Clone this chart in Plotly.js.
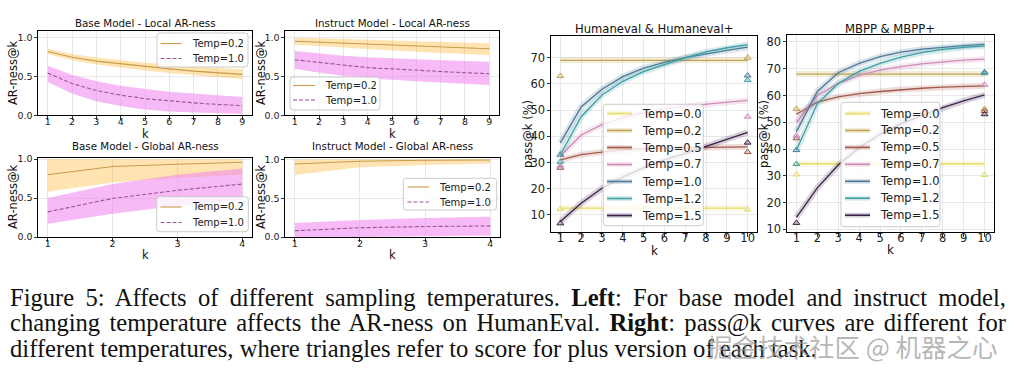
<!DOCTYPE html>
<html><head><meta charset="utf-8">
<script src="https://cdn.plot.ly/plotly-3.0.1.min.js"></script>
<style>html,body{margin:0;padding:0;background:#fff;}#chart{width:1015px;height:372px;}</style>
</head><body><div id="chart"></div>
<script>
// ---------------- DATA ----------------
const kLocal = [1,2,3,4,5,6,7,8,9];
const kGlobal = [1,2,3,4];
const kPass = [1,2,3,4,5,6,7,8,9,10];
const kPlus = [1,10];
const arLegendNames = ['Temp=0.2','Temp=1.0'];

// Base model - local AR-ness
const baseLocalT02   = [0.824,0.75,0.70,0.665,0.63,0.60,0.57,0.545,0.528];
const baseLocalT02Lo = [0.79,0.71,0.655,0.615,0.58,0.545,0.515,0.49,0.465];
const baseLocalT02Hi = [0.86,0.79,0.745,0.71,0.68,0.655,0.63,0.61,0.595];
const baseLocalT10   = [0.545,0.41,0.32,0.26,0.215,0.185,0.16,0.14,0.125];
const baseLocalT10Lo = [0.43,0.28,0.18,0.12,0.075,0.05,0.035,0.025,0.02];
const baseLocalT10Hi = [0.64,0.52,0.44,0.38,0.34,0.305,0.28,0.255,0.235];
// Instruct model - local AR-ness
const instLocalT02   = [0.957,0.945,0.93,0.915,0.90,0.89,0.88,0.87,0.86];
const instLocalT02Lo = [0.91,0.895,0.875,0.855,0.835,0.82,0.805,0.79,0.78];
const instLocalT02Hi = [1.0,0.995,0.985,0.975,0.965,0.955,0.945,0.935,0.93];
const instLocalT10   = [0.717,0.68,0.645,0.615,0.60,0.58,0.565,0.55,0.537];
const instLocalT10Lo = [0.60,0.55,0.51,0.48,0.46,0.44,0.42,0.405,0.39];
const instLocalT10Hi = [0.83,0.80,0.77,0.75,0.735,0.72,0.71,0.70,0.69];
// Base model - global AR-ness
const baseGlobalT02   = [0.80,0.905,0.935,0.96];
const baseGlobalT02Lo = [0.58,0.70,0.76,0.80];
const baseGlobalT02Hi = [1.0,1.0,1.0,1.0];
const baseGlobalT10   = [0.323,0.496,0.60,0.68];
const baseGlobalT10Lo = [0.17,0.30,0.40,0.48];
const baseGlobalT10Hi = [0.50,0.68,0.80,0.88];
// Instruct model - global AR-ness
const instGlobalT02   = [0.943,0.978,0.99,0.995];
const instGlobalT02Lo = [0.80,0.90,0.93,0.95];
const instGlobalT02Hi = [1.0,1.0,1.0,1.0];
const instGlobalT10   = [0.08,0.12,0.135,0.143];
const instGlobalT10Lo = [0.0,0.0,0.01,0.02];
const instGlobalT10Hi = [0.18,0.22,0.245,0.26];

// pass@k
const temps = ['Temp=0.0','Temp=0.2','Temp=0.5','Temp=0.7','Temp=1.0','Temp=1.2','Temp=1.5'];
const heT00 = [12.6,12.6,12.6,12.6,12.6,12.6,12.6,12.6,12.6,12.6];
const heT02 = [69,69,69,69,69,69,69,69,69,69];
const heT05 = [31,33,34,34.8,35.2,35.5,35.7,35.8,35.9,36];
const heT07 = [32.5,40.5,44.5,47,49,50.5,51.5,52.3,53,53.7];
const heT10 = [37.5,51.2,58,62.8,66,68.2,70,71.5,72.8,74];
const heT12 = [33,47.5,55.8,61,64.7,67.4,70,72.2,73.8,75];
const heT15 = [7.5,14.5,20.2,24.5,28,31,33.5,36.2,39,41.5];
const hePlus = [[12.3,12.0],[63,70],[28,34],[28.8,47.5],[33,63.2],[30.3,61.5],[6.8,37.6]];

const mbT00 = [34.5,34.5,34.5,34.5,34.5,34.5,34.5,34.5,34.5,34.5];
const mbT02 = [68,68,68,68,68,68,68,68,68,68];
const mbT05 = [53,57.5,59.5,60.7,61.5,62.2,62.7,63.1,63.4,63.6];
const mbT07 = [50,60,64.5,67.5,69.5,70.8,71.8,72.6,73.2,73.6];
const mbT10 = [46.5,61.5,68.5,72,74.5,76.2,77.3,78,78.6,79.1];
const mbT12 = [39.5,57,64.5,69,72,74.3,76,77.2,78,78.5];
const mbT15 = [14.5,25.5,34,40.5,45.5,49.5,52.5,55.5,58,60.2];
const mbPlus = [[30.5,30.3],[55,55],[44,54.2],[45,64],[39.6,68.7],[34.4,68.3],[12.4,53]];

// ---------------- STYLE ----------------
const W = 1015, H = 372;
const px = v => v / W, py = v => 1 - v / H;
const FONT = 'DejaVu Sans';
const AR02 = '#c89b4b', AR10 = '#a0509a';
const AR02BAND = 'rgba(255,165,0,0.3)', AR10BAND = 'rgba(238,130,238,0.55)';
const AR10DASH = '4px,2px';
const passColors = ['#e6dd6a','#c2a44e','#a3594a','#cf8cb8','#4d7a98','#3f9ea6','#3b2049'];
function rgba(hex,a){const n=parseInt(hex.slice(1),16);return `rgba(${n>>16},${(n>>8)&255},${n&255},${a})`;}

const traces = [];
const sfx = i => (i===1?'':String(i));

function band(xs, lo, hi, color, ax){
  traces.push({x: xs.concat(xs.slice().reverse()), y: hi.concat(lo.slice().reverse()),
    mode:'lines', fill:'toself', fillcolor: color, line:{width:0}, hoverinfo:'skip',
    showlegend:false, xaxis:'x'+sfx(ax), yaxis:'y'+sfx(ax)});
}
function arPanel(ax, xs, t02, lo02, hi02, t10, lo10, hi10){
  band(xs, lo02, hi02, AR02BAND, ax);
  traces.push({x:xs, y:t02, mode:'lines', name:arLegendNames[0], line:{color:AR02,width:1.1},
    showlegend:false, xaxis:'x'+sfx(ax), yaxis:'y'+sfx(ax)});
  band(xs, lo10, hi10, AR10BAND, ax);
  traces.push({x:xs, y:t10, mode:'lines', name:arLegendNames[1], line:{color:AR10,width:1.1,dash:AR10DASH},
    showlegend:false, xaxis:'x'+sfx(ax), yaxis:'y'+sfx(ax)});
}
arPanel(1, kLocal, baseLocalT02, baseLocalT02Lo, baseLocalT02Hi, baseLocalT10, baseLocalT10Lo, baseLocalT10Hi);
arPanel(2, kLocal, instLocalT02, instLocalT02Lo, instLocalT02Hi, instLocalT10, instLocalT10Lo, instLocalT10Hi);
arPanel(3, kGlobal, baseGlobalT02, baseGlobalT02Lo, baseGlobalT02Hi, baseGlobalT10, baseGlobalT10Lo, baseGlobalT10Hi);
arPanel(4, kGlobal, instGlobalT02, instGlobalT02Lo, instGlobalT02Hi, instGlobalT10, instGlobalT10Lo, instGlobalT10Hi);

function passPanel(ax, series, plus){
  series.forEach((ys,i)=>{
    const c = passColors[i];
    traces.push({x:kPass, y:ys, mode:'lines', line:{color:rgba(c,0.2),width:6}, hoverinfo:'skip',
      showlegend:false, xaxis:'x'+sfx(ax), yaxis:'y'+sfx(ax)});
    traces.push({x:kPass, y:ys, mode:'lines', name:temps[i], line:{color:c,width:1.3},
      showlegend:false, xaxis:'x'+sfx(ax), yaxis:'y'+sfx(ax)});
    traces.push({x:kPlus, y:plus[i], mode:'markers', showlegend:false,
      marker:{symbol:'triangle-up', size:6, color:rgba(c,0.3), line:{color:c,width:1}},
      xaxis:'x'+sfx(ax), yaxis:'y'+sfx(ax)});
  });
}
passPanel(5, [heT00,heT02,heT05,heT07,heT10,heT12,heT15], hePlus);
passPanel(6, [mbT00,mbT02,mbT05,mbT07,mbT10,mbT12,mbT15], mbPlus);

function axis(dom, range, extra){
  return Object.assign({domain:dom, range:range, showline:true, mirror:true, linecolor:'#000', linewidth:1,
    ticks:'outside', ticklen:3.5, tickwidth:0.8, tickcolor:'#000', showgrid:true, gridcolor:'#e2e2e2',
    gridwidth:0.8, zeroline:false, fixedrange:true}, extra);
}
const arTick = {family:FONT, size:9.5, color:'#222'};
const passTick = {family:FONT, size:11.5, color:'#222'};
const dX = (a,b)=>[px(a),px(b)], dY = (t,b)=>[py(b),py(t)];
const xs_ = {ticklabelstandoff:-6};
const xp_ = {ticklabelstandoff:-8};
const ys_ = {ticklabelstandoff:-1};

const layout = {
  width:W, height:H, margin:{l:0,r:0,t:0,b:0}, paper_bgcolor:'#fff', plot_bgcolor:'#fff',
  font:{family:FONT}, showlegend:false,
  xaxis:  axis(dX(38,252),  [0.6,9.4],  Object.assign({anchor:'y',  dtick:1, tickfont:arTick}, xs_)),
  yaxis:  axis(dY(30.5,115.3),[0,1.095],Object.assign({anchor:'x',  tickvals:[0,0.5,1], tickformat:'.1f', tickfont:arTick}, ys_)),
  xaxis2: axis(dX(285,499), [0.6,9.4],  Object.assign({anchor:'y2', dtick:1, tickfont:arTick}, xs_)),
  yaxis2: axis(dY(30.5,115.3),[0,1.095],Object.assign({anchor:'x2', tickvals:[0,0.5,1], tickformat:'.1f', tickfont:arTick}, ys_)),
  xaxis3: axis(dX(38,252),  [0.85,4.15],Object.assign({anchor:'y3', dtick:1, tickfont:arTick}, xs_)),
  yaxis3: axis(dY(158,237), [0,1.015],  Object.assign({anchor:'x3', tickvals:[0,0.5,1], tickformat:'.1f', tickfont:arTick}, ys_)),
  xaxis4: axis(dX(285,500), [0.85,4.15],Object.assign({anchor:'y4', dtick:1, tickfont:arTick}, xs_)),
  yaxis4: axis(dY(158,237), [0,1.02],   Object.assign({anchor:'x4', tickvals:[0,0.5,1], tickformat:'.1f', tickfont:arTick}, ys_)),
  xaxis5: axis(dX(551,757), [0.55,10.45],Object.assign({anchor:'y5', dtick:1, tickfont:passTick}, xp_)),
  yaxis5: axis(dY(35.7,232),[3.5,78.4], Object.assign({anchor:'x5', dtick:10, tickfont:passTick}, ys_)),
  xaxis6: axis(dX(787,994), [0.55,10.45],Object.assign({anchor:'y6', dtick:1, tickfont:passTick}, xp_)),
  yaxis6: axis(dY(35,232),  [9,82.6],   Object.assign({anchor:'x6', dtick:10, tickfont:passTick}, ys_)),
  annotations: [], shapes: []
};

function ann(text, x, y, size, extra){
  layout.annotations.push(Object.assign({text:text, x:px(x), y:py(y), xref:'paper', yref:'paper',
    showarrow:false, xanchor:'center', yanchor:'middle', font:{family:FONT, size:size, color:'#111'}}, extra||{}));
}

// ---- legends (matplotlib style frames) ----
function roundRect(x0,y0,x1,y1,r){
  const X=v=>px(v).toFixed(5), Y=v=>py(v).toFixed(5);
  return `M${X(x0+r)},${Y(y0)} L${X(x1-r)},${Y(y0)} Q${X(x1)},${Y(y0)} ${X(x1)},${Y(y0+r)} `+
         `L${X(x1)},${Y(y1-r)} Q${X(x1)},${Y(y1)} ${X(x1-r)},${Y(y1)} L${X(x0+r)},${Y(y1)} `+
         `Q${X(x0)},${Y(y1)} ${X(x0)},${Y(y1-r)} L${X(x0)},${Y(y0+r)} Q${X(x0)},${Y(y0)} ${X(x0+r)},${Y(y0)} Z`;
}
function legend(box, lineX0, lineX1, textX, y0, gap, entries, fontSize, lw){
  layout.shapes.push({type:'path', path:roundRect(box[0],box[1],box[2],box[3],3), xref:'paper', yref:'paper',
    fillcolor:'rgba(255,255,255,0.8)', line:{color:'#cccccc', width:1}, layer:'above'});
  entries.forEach((e,i)=>{
    const y = y0 + i*gap;
    if (e.halo) layout.shapes.push({type:'line', x0:px(lineX0), x1:px(lineX1), y0:py(y), y1:py(y), xref:'paper', yref:'paper',
      line:{color:rgba(e.color,0.2), width:5}, layer:'above'});
    layout.shapes.push({type:'line', x0:px(lineX0), x1:px(lineX1), y0:py(y), y1:py(y), xref:'paper', yref:'paper',
      line:{color:e.color, width:lw, dash:e.dash||'solid'}, layer:'above'});
    ann(e.name, textX, y, fontSize, {xanchor:'left', font:{family:FONT, size:fontSize, color:'#222'}});
  });
}
const arEntries = [{name:arLegendNames[0], color:AR02},{name:arLegendNames[1], color:AR10, dash:AR10DASH}];
legend([157,33,248,67],      160.5,181.5,190,   43.5, 15, arEntries, 10, 1.1);
legend([290,77,380,110],     293,315,323,       85.5, 14.5, arEntries, 10, 1.1);
legend([156.7,196.7,248.3,231.7], 160.5,181.5,189.5, 207, 15.5, arEntries, 10, 1.1);
legend([403.3,178.3,496.7,210],   407.5,429,436.5,   187, 15, arEntries, 10, 1.1);
const passEntries = temps.map((t,i)=>({name:t, color:passColors[i], halo:true}));
legend([603.3,104.3,703.3,225.7], 607,632,640,   113.5, 17, passEntries, 11.5, 1.6);
legend([841,102.3,940,226.7],     845,870,878,   113.5, 16.95, passEntries, 11.5, 1.6);

// subplot titles
ann('Base Model - Local AR-ness', 145, 23, 10.3);
ann('Instruct Model - Local AR-ness', 392, 23, 10.3);
ann('Base Model - Global AR-ness', 145, 146, 10.3);
ann('Instruct Model - Global AR-ness', 392, 146, 10.3);
ann('Humaneval &amp; Humaneval+', 654, 29, 11.6);
ann('MBPP &amp; MBPP+', 890, 29, 11.6);
// axis labels
ann('AR-ness@k', 13, 73, 11.5, {textangle:-90});
ann('AR-ness@k', 261, 73, 11.5, {textangle:-90});
ann('AR-ness@k', 13, 197, 11.5, {textangle:-90});
ann('AR-ness@k', 261, 197, 11.5, {textangle:-90});
ann('pass@k (%)', 528, 134, 11.5, {textangle:-90});
ann('pass@k (%)', 764, 134, 11.5, {textangle:-90});
ann('k', 145, 133.5, 11.5); ann('k', 392, 133.5, 11.5);
ann('k', 145, 255.5, 11.5); ann('k', 392, 255.5, 11.5);
ann('k', 654, 251, 12);   ann('k', 890, 250, 12);
// caption
const capFont = {family:'Liberation Serif', size:24.6, color:'#111'};
const capStart = layout.annotations.length;
ann('Figure 5: Affects of different sampling temperatures. <b>Left</b>: For base model and instruct model,', 8, 297, 24.6, {xanchor:'left', align:'left', font:capFont});
ann('changing temperature affects the AR-ness on HumanEval. <b>Right</b>: pass@k curves are different for', 8, 322.5, 24.6, {xanchor:'left', align:'left', font:capFont});
ann('different temperatures, where triangles refer to score for plus version of each task.', 8, 348, 24.6, {xanchor:'left', align:'left', font:capFont});
// watermark
ann('掘金技术社区 @ 机器之心', 1000, 345, 25.5, {xanchor:'right', font:{family:'Noto Sans CJK SC', size:25.5, color:'rgba(150,150,150,0.7)'}});

const gd = document.getElementById('chart');
Plotly.newPlot(gd, traces, layout, {staticPlot:true}).then(()=>{
  try {
    [capStart, capStart+1].forEach(i=>{
      const t = gd.querySelector(`.annotation[data-index="${i}"] text.annotation-text`);
      if(!t) return;
      const r0 = t.getBoundingClientRect();
      const spaces = (t.textContent.match(/ /g)||[]).length;
      const target = 1006;
      const ws = (target - r0.left - r0.width) / spaces;
      t.style.wordSpacing = ws + 'px';
      const r1 = t.getBoundingClientRect();
      const shift = r0.left - r1.left;
      if (Math.abs(shift) > 0.3) t.setAttribute('x', (parseFloat(t.getAttribute('x')||0) + shift));
    });
  } catch(e) {}
});
</script></body></html>
